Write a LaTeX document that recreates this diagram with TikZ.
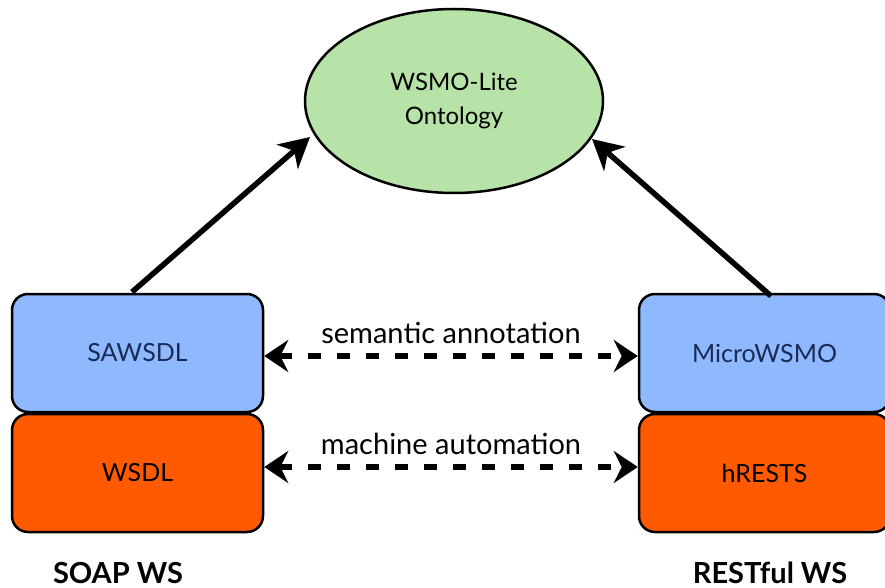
\documentclass[tikz,border=0pt]{standalone}
\usepackage{fontspec}
\setmainfont{Lato}
\usetikzlibrary{arrows.meta,shapes.geometric}
\definecolor{boxblue}{HTML}{8FB9FF}
\definecolor{boxorange}{HTML}{FF5A00}
\definecolor{ellgreen}{HTML}{B8E3A8}
\definecolor{navy}{HTML}{1B2A55}
\begin{document}
\begin{tikzpicture}[x=1pt,y=-1pt,
  layer/.style={draw=black,line width=2.5pt,rounded corners=16pt,minimum width=251pt,minimum height=118pt,inner sep=0pt,font=\fontsize{25}{28}\selectfont},
  upper/.style={layer,fill=boxblue,text=navy},
  lower/.style={layer,fill=boxorange,text=black},
  solidarrow/.style={line width=5.5pt,-{Stealth[length=30pt,width=32pt,inset=9pt]}},
  dasharrow/.style={line width=5.5pt,dash pattern=on 13pt off 16pt,{Stealth[length=24pt,width=32pt,inset=8pt]}-{Stealth[length=24pt,width=32pt,inset=8pt]}},
  lbl/.style={font=\fontsize{29}{32}\selectfont},
  foot/.style={font=\bfseries\fontsize{29}{32}\selectfont}]
\useasboundingbox (0,0) rectangle (885,588);
\node[ellipse,draw=black,line width=2.5pt,fill=ellgreen,minimum width=298pt,minimum height=184pt,inner sep=0pt,align=center,font=\fontsize{24}{34}\selectfont] (onto) at (454,101) {WSMO-Lite\\Ontology};
\node[upper] (sawsdl) at (137.5,353) {SAWSDL};
\node[lower] (wsdl) at (137.5,473) {WSDL};
\node[upper] (micro) at (764.5,353) {MicroWSMO};
\node[lower] (hrests) at (764.5,473) {hRESTS};
\coordinate (ls) at (132,292);
\coordinate (lt) at (310,137);
\coordinate (rs) at (771,296);
\coordinate (rt) at (592,139);
\draw[solidarrow] (ls) -- (lt);
\draw[solidarrow] (rs) -- (rt);
\draw[dasharrow] (sawsdl.east |- 0,356) -- (micro.west |- 0,356) node[midway,above=6pt,lbl] {semantic annotation};
\draw[dasharrow] (wsdl.east |- 0,467) -- (hrests.west |- 0,467) node[midway,above=6pt,lbl] {machine automation};
\node[foot,anchor=base] (soap) at (118,583) {SOAP WS};
\node[foot,anchor=base] (rest) at (770,583) {RESTful WS};
\end{tikzpicture}
\end{document}
